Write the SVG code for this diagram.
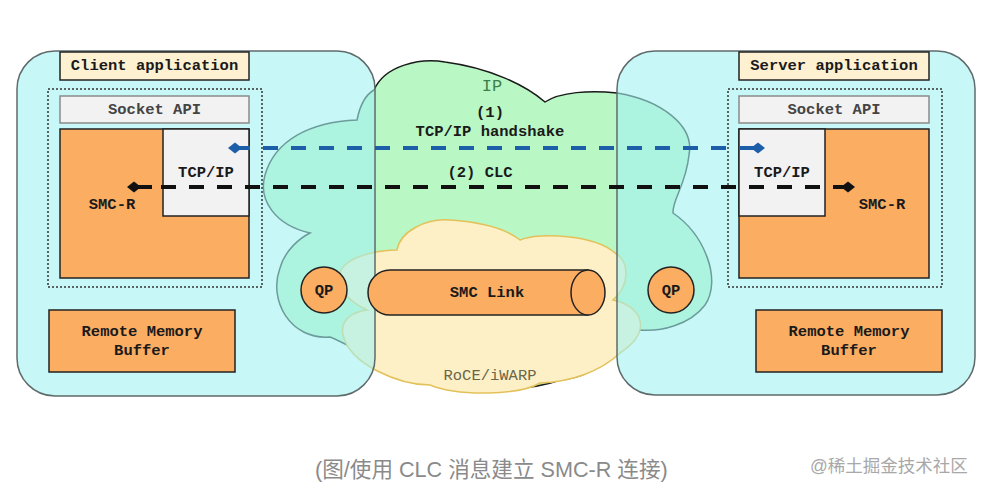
<svg xmlns="http://www.w3.org/2000/svg" width="987" height="493" viewBox="0 0 987 493">
<style>
.lbl{font-family:"Liberation Mono","DejaVu Sans Mono",monospace;font-weight:bold;font-size:15.5px;fill:#1a1a1a;text-anchor:middle}
.gray{fill:#444}
.app{fill:#a3f2f2;fill-opacity:0.6;stroke:#5f6b6b;stroke-width:1.5}
.tag{fill:#fdf1d2;stroke:#222;stroke-width:1.5}
.sock{fill:#f2f2f2;stroke:#8a8a8a;stroke-width:1.5}
.orange{fill:#fbad62;stroke:#222;stroke-width:1.5}
.tcp{fill:#f2f2f2;stroke:#222;stroke-width:1.5}
.dot{fill:none;stroke:#333;stroke-width:1.5;stroke-dasharray:2 2}
.dash{fill:none;stroke-width:4;stroke-dasharray:15 13}
</style>
<defs>
<marker id="dBlue" markerUnits="userSpaceOnUse" markerWidth="14" markerHeight="12" refX="7" refY="6" orient="auto" overflow="visible">
<path d="M0 6 L7 0.5 L14 6 L7 11.5 Z" fill="#1d5ea8"/>
</marker>
<marker id="dBlack" markerUnits="userSpaceOnUse" markerWidth="14" markerHeight="12" refX="7" refY="6" orient="auto" overflow="visible">
<path d="M0 6 L7 0.5 L14 6 L7 11.5 Z" fill="#111"/>
</marker>
</defs>
<rect width="987" height="493" fill="#ffffff"/>

<g id="ip-cloud">
<path d="M374 90 C385 65 420 58 445 62 C490 68 525 85 545 102 C560 92 590 90 617 93 C660 100 695 125 689 155 C686 185 672 200 673 213 C705 235 722 280 705 305 C690 325 660 332 640 330 C625 332 606 340 605 355 C600 370 580 378 560 380 C520 395 440 390 410 370 C380 365 350 345 330 337 C290 340 268 300 280 268 C285 250 300 238 310 233 C275 225 258 200 265 175 C275 140 310 122 357 120 C360 105 365 95 374 90 Z" fill="#b9f7c4" stroke="#1a1a1a" stroke-width="1.5"/>
<text x="492" y="91" font-family="Liberation Mono, monospace" font-size="17" fill="#3f7d4c" text-anchor="middle">IP</text>
</g>

<g id="roce-cloud">
<path d="M397 250 C400 232 425 218 450 220 C480 222 505 228 520 240 C540 232 595 235 615 253 C630 262 630 285 613 300 C640 305 655 330 620 353 C600 372 570 382 540 383 C520 395 460 397 430 385 C400 385 350 365 343 335 C340 320 352 312 367 310 C345 300 330 280 345 265 C355 255 380 250 397 250 Z" fill="#fdf0c6" stroke="#e3c15a" stroke-width="1.5"/>
</g>

<g id="client">
<rect class="app" x="17" y="51" width="358" height="345" rx="38"/>
<rect class="tag" x="60" y="52" width="189" height="28"/>
<text class="lbl" x="154.5" y="70">Client application</text>
<rect class="dot" x="48" y="89" width="214" height="198"/>
<rect class="sock" x="60" y="96" width="189" height="27"/>
<text class="lbl gray" x="154.5" y="114">Socket API</text>
<rect class="orange" x="60" y="129" width="189" height="149"/>
<rect class="tcp" x="163" y="129" width="86" height="87"/>
<text class="lbl" x="206" y="177">TCP/IP</text>
<text class="lbl" x="112" y="209">SMC-R</text>
<rect class="orange" x="49" y="310" width="186" height="62"/>
<text class="lbl" x="142" y="336">Remote Memory</text>
<text class="lbl" x="142" y="355">Buffer</text>
</g>

<g id="server">
<rect class="app" x="617" y="51" width="358" height="344" rx="38"/>
<rect class="tag" x="739" y="52" width="190" height="28"/>
<text class="lbl" x="834" y="70">Server application</text>
<rect class="dot" x="728" y="89" width="214" height="198"/>
<rect class="sock" x="739" y="96" width="190" height="27"/>
<text class="lbl gray" x="834" y="114">Socket API</text>
<rect class="orange" x="739" y="129" width="190" height="149"/>
<rect class="tcp" x="739" y="129" width="86" height="87"/>
<text class="lbl" x="782" y="177">TCP/IP</text>
<text class="lbl" x="882" y="209">SMC-R</text>
<rect class="orange" x="756" y="310" width="186" height="62"/>
<text class="lbl" x="849" y="336">Remote Memory</text>
<text class="lbl" x="849" y="355">Buffer</text>
</g>

<g id="qp-left">
<circle class="orange" cx="324" cy="290" r="23"/>
<text class="lbl" x="324" y="295">QP</text>
</g>
<g id="qp-right">
<circle class="orange" cx="671" cy="290" r="23"/>
<text class="lbl" x="671" y="295">QP</text>
</g>

<g id="smc-link">
<path class="orange" d="M390 270 H588 V315 H390 A22 22.5 0 0 1 390 270 Z"/>
<ellipse class="orange" cx="588" cy="292.5" rx="17" ry="22.5"/>
<text class="lbl" x="487" y="297">SMC Link</text>
</g>

<g id="labels">
<text class="lbl" x="490" y="117">(1)</text>
<text class="lbl" x="490" y="136">TCP/IP handshake</text>
<text class="lbl" x="480" y="177">(2) CLC</text>
<text x="490" y="380" font-family="Liberation Mono, monospace" font-size="15.5" fill="#6b6648" text-anchor="middle">RoCE/iWARP</text>
</g>

<g id="connectors">
<path class="dash" d="M235 148 H758" stroke="#1d5ea8" marker-start="url(#dBlue)" marker-end="url(#dBlue)"/>
<path d="M134 187 H152" stroke="#111" stroke-width="4"/>
<path class="dash" d="M848 187 H134" stroke="#111" marker-start="url(#dBlack)" marker-end="url(#dBlack)"/>
</g>

<g id="caption">
<text x="315" y="477" font-family="Liberation Sans, Noto Sans CJK SC, sans-serif" font-size="21.6" fill="#8a8a8a">(图/使用 CLC 消息建立 SMC-R 连接)</text>
<text x="810" y="472" font-family="Liberation Sans, Noto Sans CJK SC, sans-serif" font-size="17.5" fill="#a8a8a8">@稀土掘金技术社区</text>
</g>
</svg>
